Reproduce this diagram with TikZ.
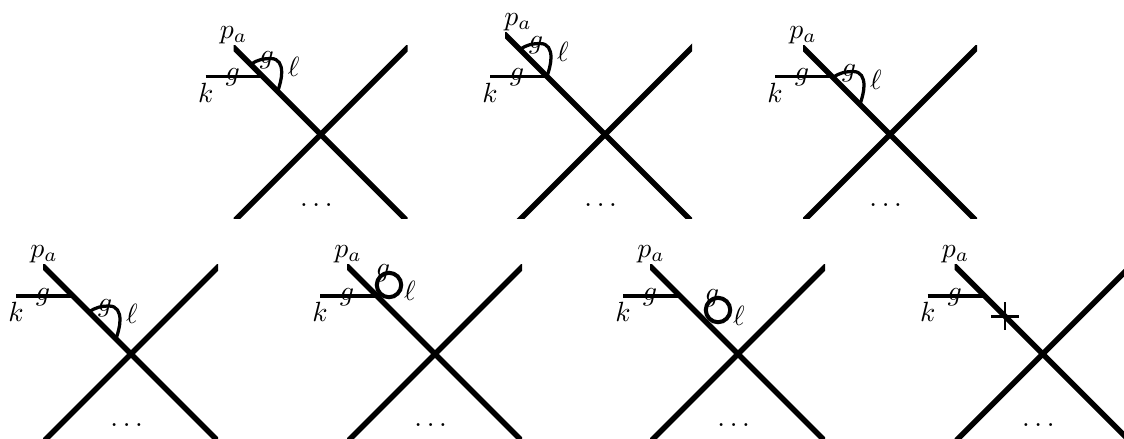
\documentclass[tikz,border=0pt]{standalone}
\usepackage{amsmath, amssymb}
\usepackage{tikz}
\usetikzlibrary{shapes.misc}

\tikzset{
  leg/.style={line width=2.1pt},
  gluon/.style={line width=1.25pt},
  lab/.style={scale=1.07},
  insert/.style={circle, draw, line width=1.55pt, minimum size=9.4pt, inner sep=0pt},
  cut/.style={cross out, draw, rotate=45, line width=1.15pt, minimum size=6.4pt, inner sep=0pt}
}

% the crossing with its external lines, #1 = reach of the upper left leg
\newcommand{\crossing}[1]{
  \coordinate (c) at (0,0);
  \coordinate (tl) at (-110,-110);
  \coordinate (tr) at (110,-110);
  \coordinate (bl) at (-110,110);
  \coordinate (br) at (110,110);
  \coordinate (j) at (-58,-58);
  \coordinate (kend) at (-115,-58);
  \begin{scope}
    \clip (-#1,-#1-2) rectangle (87,84);
    \draw[leg] (tl) -- (br);
    \draw[leg] (bl) -- (tr);
  \end{scope}
  \draw[gluon] (kend) -- (j);
  \node[lab] (pa) at (-87,-#1-12) {$p_a$};
  \node[lab] (k) at (-115,-42) {$k$};
  \node[lab] (gk) at (-88,-57) {$g$};
  \node[lab, anchor=base] (dots) at (-2,72) {$\dots$};
}

% gluon arc starting on the upper left leg at (#1,#1)
\newcommand{\gluonarc}[1]{
  \coordinate (la) at (#1,#1);
  \coordinate (lt) at (#1+20,#1-6);
  \coordinate (lr) at (#1+31,#1+8);
  \coordinate (lb) at (#1+27,#1+27);
  \draw[gluon] (la) .. controls +(7,-5) and +(-7,0) .. (lt)
    .. controls +(8,0) and +(0,-8) .. (lr)
    .. controls +(0,6) and +(2,-6) .. (lb);
  \node[lab] (gl) at (#1+16,#1-4) {$g$};
  \node[lab] (ell) at (#1+43,#1+2) {$\ell$};
}

% closed gluon loop centred at (#1,#2)
\newcommand{\gluonring}[2]{
  \node[insert] (ring) at (#1,#2) {};
  \node[lab] (gl) at (#1-6,#2-12) {$g$};
  \node[lab] (ell) at (#1+21,#2+6) {$\ell$};
}

\begin{document}
\begin{tikzpicture}[x=0.385pt, y=-0.385pt]
\useasboundingbox (0,0) rectangle (1124,438);

\begin{scope}[shift={(320.7,134.5)}, name prefix=a-]
  \crossing{87}
  \gluonarc{-70}
\end{scope}

\begin{scope}[shift={(605,134.5)}, name prefix=b-]
  \crossing{100}
  \gluonarc{-85}
\end{scope}

\begin{scope}[shift={(890,134.5)}, name prefix=c-]
  \crossing{87}
  \gluonarc{-57}
\end{scope}

\begin{scope}[shift={(131,354)}, name prefix=d-]
  \crossing{88}
  \gluonarc{-42}
\end{scope}

\begin{scope}[shift={(435,354)}, name prefix=e-]
  \crossing{88}
  \gluonring{-46}{-69}
\end{scope}

\begin{scope}[shift={(738,354)}, name prefix=f-]
  \crossing{88}
  \gluonring{-20}{-44}
\end{scope}

\begin{scope}[shift={(1042.7,354)}, name prefix=g-]
  \crossing{88}
  \node[cut] (x) at (-37.7,-38) {};
\end{scope}
\end{tikzpicture}
\end{document}
